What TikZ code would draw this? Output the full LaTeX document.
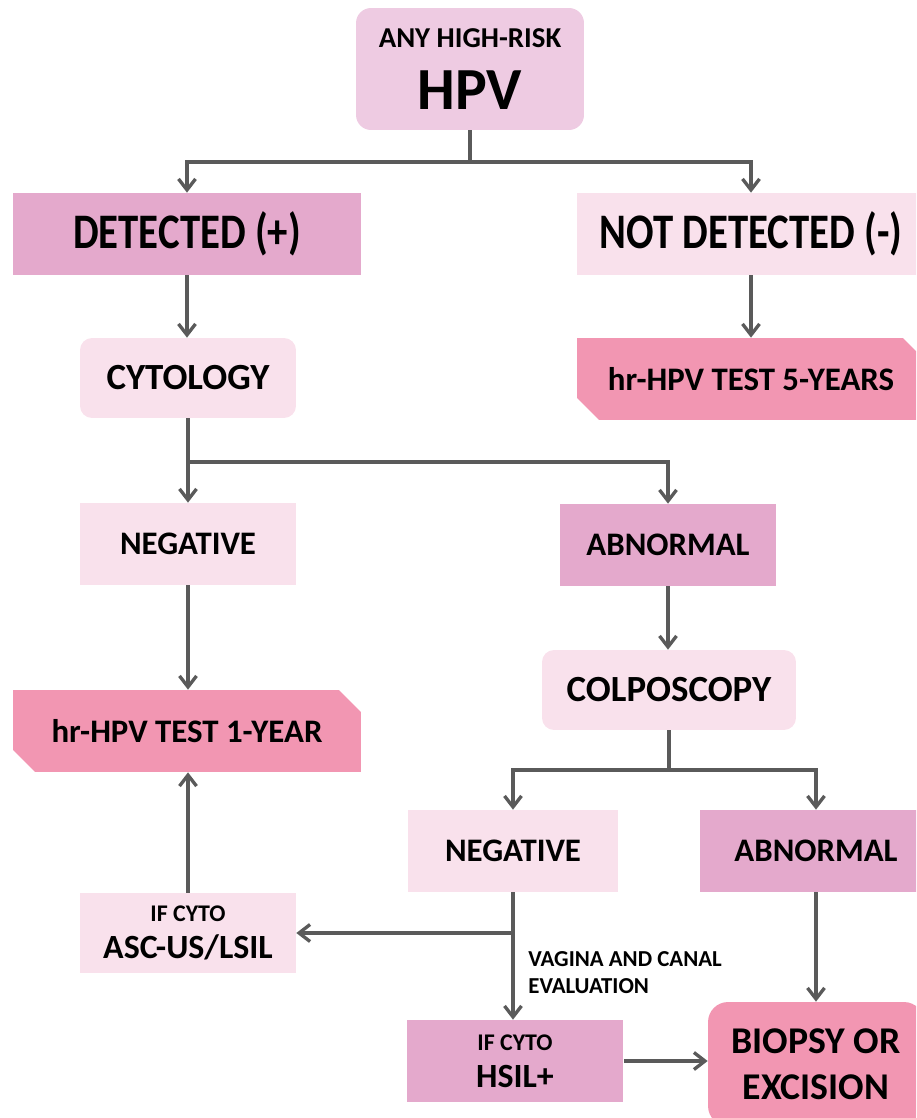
\documentclass[tikz,border=0pt]{standalone}
\usepackage{fontspec}
\setmainfont{Carlito}
\usetikzlibrary{arrows.meta,shapes.misc}

\definecolor{boxpale}{HTML}{F9E1EC}
\definecolor{boxmid}{HTML}{E4A9CC}
\definecolor{boxdeep}{HTML}{F296B2}
\definecolor{boxtop}{HTML}{EECBE2}
\definecolor{linegray}{HTML}{5A5A5A}

\newcommand\boxfs[2]{\fontsize{#1pt}{#2pt}\selectfont\bfseries}
\newcommand\narrow[1]{\scalebox{0.82}[1]{#1}}

\begin{document}
\begin{tikzpicture}[
  x=0.02cm, y=-0.02cm,
  >={Straight Barb[length=0.22cm, width=0.34cm]},
  box/.style={rectangle, inner sep=0pt, align=center, minimum height=1.64cm},
  pale/.style={box, fill=boxpale},
  mid/.style={box, fill=boxmid},
  deep/.style={box, fill=boxdeep},
  snip/.style={chamfered rectangle, chamfered rectangle corners={north east, south west},
               chamfered rectangle xsep=0.22cm, chamfered rectangle ysep=0.22cm},
  arr/.style={->, line width=1.9pt, draw=linegray},
]

\useasboundingbox (0,0) rectangle (916,1118);
\clip (0,0) rectangle (916,1118);

% test result
\node[box, fill=boxtop, rounded corners=0.3cm, minimum width=4.56cm, minimum height=2.44cm,
      font=\boxfs{34}{35.7}] (hpv) at (470,69) {{\boxfs{16.4}{20}ANY HIGH-RISK}\\HPV};
\node[mid, minimum width=6.96cm, font=\boxfs{28.3}{32}] (det) at (187,234) {\narrow{DETECTED (+)}};
\node[pale, minimum width=6.96cm, font=\boxfs{28.3}{32}] (notdet) at (751,234) {\narrow{NOT DETECTED (-)}};

% detected branch
\node[pale, rounded corners=0.24cm, minimum width=4.32cm, minimum height=1.6cm,
      font=\boxfs{21}{25}] (cyto) at (188,378) {CYTOLOGY};
\node[deep, snip, minimum width=6.96cm, font=\boxfs{18.7}{22}] (hrfive) at (751,379) {hr-HPV TEST 5-YEARS};
\node[pale, minimum width=4.32cm, font=\boxfs{18.7}{22}] (negcyto) at (188,544) {NEGATIVE};
\node[mid, minimum width=4.34cm, font=\boxfs{18.7}{22}] (abncyto) at (668,545) {ABNORMAL};
\node[pale, rounded corners=0.24cm, minimum width=5.08cm, minimum height=1.6cm,
      font=\boxfs{21}{25}] (colpo) at (669,690) {COLPOSCOPY};
\node[deep, snip, minimum width=6.96cm, font=\boxfs{18.7}{22}] (hrone) at (187,731) {hr-HPV TEST 1-YEAR};

% colposcopy branch
\node[pale, minimum width=4.22cm, font=\boxfs{18.7}{22}] (negcolpo) at (513,851) {NEGATIVE};
\node[mid, minimum width=4.64cm, font=\boxfs{18.7}{22}] (abncolpo) at (816,851) {ABNORMAL};
\node[pale, minimum width=4.32cm, minimum height=1.6cm, font=\boxfs{19.3}{21}]
  (asc) at (188,933) {{\boxfs{13.6}{16}IF CYTO}\\ASC-US/LSIL};
\node[mid, minimum width=4.34cm, font=\boxfs{19.3}{21}]
  (hsil) at (515,1061) {{\boxfs{13.6}{16}IF CYTO}\\HSIL+};
\node[deep, rounded corners=0.4cm, minimum width=4.32cm, minimum height=2.48cm,
      font=\boxfs{21.5}{26}] (biopsy) at (816,1064) {BIOPSY OR\\EXCISION};
\node[anchor=north west, align=left, inner sep=0pt, font=\boxfs{13}{15.3}]
  (vagina) at (528,951) {VAGINA AND CANAL\\EVALUATION};

% connectors
\coordinate (split1) at (470,162);
\coordinate (split2) at (188,462);
\coordinate (split3) at (669,770);

\draw[arr] (hpv.south) -- (split1) -| (det.north);
\draw[arr] (split1) -| (notdet.north);
\draw[arr] (det.south) -- (det.south |- cyto.north);
\draw[arr] (notdet.south) -- (hrfive.north);
\draw[arr] (cyto.south) -- (negcyto.north);
\draw[arr] (split2) -| (abncyto.north);
\draw[arr] (abncyto.south) -- (abncyto.south |- colpo.north);
\draw[arr] (negcyto.south) -- (negcyto.south |- hrone.north);
\draw[arr] (colpo.south) -- (split3) -| (negcolpo.north);
\draw[arr] (split3) -| (abncolpo.north);
\draw[arr] (asc.north) -- (asc.north |- hrone.south);
\draw[arr] (negcolpo.south) -- (negcolpo.south |- hsil.north);
\draw[arr] (negcolpo.south |- asc.east) -- (asc.east);
\draw[arr] (abncolpo.south) -- (biopsy.north);
\draw[arr] (hsil.east) -- (hsil.east -| biopsy.west);

\end{tikzpicture}
\end{document}
